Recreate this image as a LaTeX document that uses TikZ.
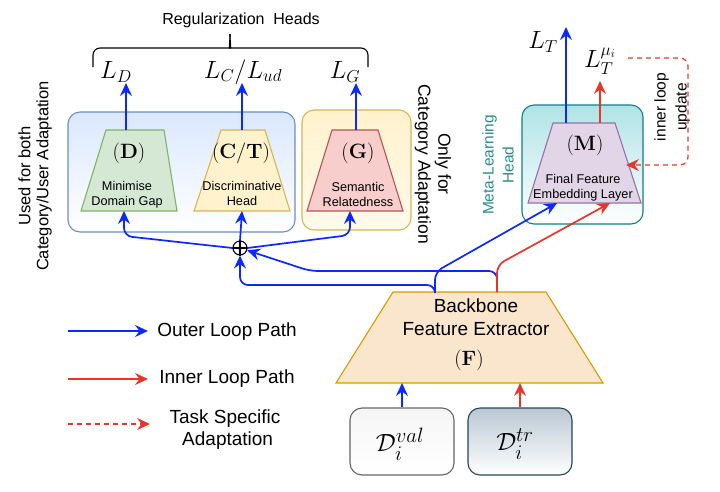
\documentclass[tikz,border=0pt]{standalone}
\usepackage[no-math]{fontspec}
\setmainfont{Liberation Sans}
\usepackage{amsmath}
\usetikzlibrary{arrows.meta}
\definecolor{lblue}{HTML}{0A28FF}
\definecolor{lred}{HTML}{E8352A}
\definecolor{teal2}{HTML}{2A8A8F}
\newcommand{\mktrap}[9]{%
  \node[minimum width=#4pt, minimum height=#5pt, inner sep=0pt, outer sep=0pt] (#1) at (#2,#3) {};
  \draw[fill=#8, draw=#9, line width=1.1pt, line join=miter] (#1.south west) -- (#1.south east) -- ([xshift=-#7pt]#1.north east) -- ([xshift=#6pt]#1.north west) -- cycle;
}
\tikzset{
  fs/.style 2 args={font=\fontsize{#1}{#2}\selectfont},
  ar/.style={-{Stealth[length=13pt,width=12pt,inset=4.5pt]}},
  bl/.style={draw=lblue, line width=1.7pt, rounded corners=8pt},
  rd/.style={draw=lred, line width=1.7pt, rounded corners=8pt},
  rbox/.style={rounded corners=12pt, line width=1.1pt, inner sep=0pt},
  txt/.style={align=center, inner sep=0pt},
}
\begin{document}
\begin{tikzpicture}[x=1pt,y=-1pt]
\useasboundingbox (0,0) rectangle (720,491);
% containers
\node[rbox, draw={rgb,255:red,108;green,142;blue,191}, top color={rgb,255:red,218;green,232;blue,252}, bottom color=white, minimum width=227pt, minimum height=120pt] (regbox) at (181.5,172) {};
\node[rbox, draw={rgb,255:red,214;green,182;blue,86}, top color={rgb,255:red,255;green,242;blue,204}, bottom color={rgb,255:red,255;green,250;blue,235}, minimum width=109pt, minimum height=120pt] (catbox) at (356.5,170) {};
\node[rbox, draw={rgb,255:red,14;green,128;blue,136}, top color={rgb,255:red,176;green,227;blue,230}, bottom color=white, minimum width=121pt, minimum height=119pt] (metabox) at (582.5,164.5) {};
% trapezoids
\mktrap{D}{129}{170.5}{96}{81}{25}{13}{{rgb,255:red,213;green,232;blue,212}}{{rgb,255:red,130;green,179;blue,102}}
\mktrap{CT}{242}{170.5}{96}{81}{27}{25}{{rgb,255:red,255;green,242;blue,204}}{{rgb,255:red,214;green,182;blue,86}}
\mktrap{G}{355}{170.5}{96}{81}{25}{25}{{rgb,255:red,248;green,206;blue,204}}{{rgb,255:red,184;green,84;blue,80}}
\mktrap{M}{584.5}{163}{113}{80}{25}{26}{{rgb,255:red,225;green,213;blue,231}}{{rgb,255:red,150;green,115;blue,166}}
\mktrap{F}{469.5}{337.5}{267}{91}{57}{57}{{rgb,255:red,250;green,230;blue,204}}{{rgb,255:red,215;green,155;blue,0}}
% trapezoid texts
\node[txt, fs={20}{24}] (Dl) at (129,153) {$(\mathbf{D})$};
\node[txt, fs={12.7}{15}] (Dt) at (127,194.5) {Minimise\\Domain Gap};
\node[txt, fs={20}{24}] (CTl) at (241,153) {$(\mathbf{C/T})$};
\node[txt, fs={12.7}{15}] (CTt) at (242,193) {Discriminative\\Head};
\node[txt, fs={20}{24}] (Gl) at (358,153) {$(\mathbf{G})$};
\node[txt, fs={12.7}{15}] (Gt) at (358,194) {Semantic\\Relatedness};
\node[txt, fs={20}{24}] (Ml) at (585,145) {$(\mathbf{M})$};
\node[txt, fs={12.7}{15}] (Mt) at (583,188) {Final Feature\\Embedding Layer};
\node[txt, fs={19}{22.5}] (Ft) at (476,317) {Backbone\\Feature Extractor};
\node[txt, fs={20}{24}] (Fl) at (469,360) {$(\mathbf{F})$};
% data boxes
\node[rbox, draw={rgb,255:red,102;green,102;blue,102}, top color={rgb,255:red,245;green,245;blue,245}, bottom color=white, minimum width=104pt, minimum height=67pt] (Dval) at (402,441.5) {};
\node[rbox, draw={rgb,255:red,35;green,68;blue,93}, top color={rgb,255:red,186;green,200;blue,211}, bottom color=white, minimum width=104pt, minimum height=67pt] (Dtr) at (520,441.5) {};
\node[txt, fs={31}{37}] (Dvalt) at (400,444) {$\mathcal{D}_i^{val}$};
\node[txt, fs={31}{37}] (Dtrt) at (515,444) {$\mathcal{D}_i^{tr}$};
% losses
\node[txt, fs={24}{28}] (LD) at (116,72) {$L_D$};
\node[txt, fs={24}{28}] (LC) at (243,72) {$L_C/L_{ud}$};
\node[txt, fs={24}{28}] (LG) at (345,72) {$L_G$};
\node[txt, fs={24}{28}] (LT) at (543,42) {$L_T$};
\node[txt, fs={24}{28}] (LTm) at (600,61) {$L_T^{\mu_i}$};
\coordinate (tD) at (126,83);
\coordinate (tC) at (242,83);
\coordinate (tG) at (356,83);
\coordinate (tT) at (566,27);
\coordinate (tTm) at (600,81);
% brace and title
\draw[line width=1.1pt, rounded corners=7pt] (93,67) -- (93,48) -- (223,48) .. controls (228.5,48) and (230,44) .. (230,34);
\draw[line width=1.1pt, rounded corners=7pt] (368,67) -- (368,48) -- (237,48) .. controls (231.5,48) and (230,44) .. (230,34);
\node[txt, fs={16}{19}] (reg) at (241,20) {Regularization\ \ Heads};
% rotated labels
\node[txt, fs={16.5}{18}, rotate=90] (used) at (35,176) {Used for both\\Category/User Adaptation};
\node[txt, fs={17.5}{20}, rotate=-90] (only) at (433,164) {Only for\\Category Adaptation};
\node[txt, fs={15.5}{20}, rotate=90, text=teal2] (metah) at (498,165) {Meta-Learning\\Head};
\node[txt, fs={15.5}{21}, rotate=90] (inner) at (672,107) {inner loop\\update};
% oplus
\node[circle, draw=black, line width=1.1pt, minimum size=14pt, inner sep=0pt] (o) at (240,248) {};
\draw[line width=1.1pt] (o.north) -- (o.south) (o.west) -- (o.east);
% up arrows from heads
\draw[bl, ar] ([xshift=-3pt]D.north) -- (tD);
\draw[bl, ar] (CT.north) -- (tC);
\draw[bl, ar] ([xshift=1pt]G.north) -- (tG);
\draw[bl, ar] ([xshift=-18.5pt]M.north) -- (tT);
\draw[rd, ar] ([xshift=15.5pt]M.north) -- (tTm);
% oplus to heads
\draw[bl, ar] (o.west) -- (124,236) -- ([xshift=-5pt]D.south);
\draw[bl, ar] (o.north) -- (CT.south);
\draw[bl, ar] (o.east) -- (350,235) -- ([xshift=-5pt]G.south);
% backbone to oplus and M
\draw[bl, ar] ([xshift=27.5pt]F.north) -- (497,271) -- (310,271) -- (o);
\draw[bl, ar] ([xshift=-34.5pt]F.north) -- (435,285) -- (240,285) -- (o.south);
\draw[bl, ar] ([xshift=-34.5pt]F.north) -- (435,272) -- ([xshift=-27.5pt]M.south);
\draw[rd, ar] ([xshift=27.5pt]F.north) -- (497,265) -- ([xshift=25.5pt]M.south);
% data to backbone
\draw[bl, ar] (Dval.north) -- (Dval.north |- F.south);
\draw[rd, ar] (Dtr.north) -- (Dtr.north |- F.south);
% dashed inner loop update
\coordinate (dstart) at (628,58);
\draw[rd, ar, dash pattern=on 5pt off 4pt, line width=1.2pt] (dstart) -- (688,58) -- (688,165) -- (626,165);
% legend
\coordinate (l1a) at (68,331); \coordinate (l1b) at (148,331);
\coordinate (l2a) at (68,379); \coordinate (l2b) at (148,379);
\coordinate (l3a) at (68,424); \coordinate (l3b) at (150,424);
\draw[bl, ar] (l1a) -- (l1b);
\draw[rd, ar] (l2a) -- (l2b);
\draw[rd, ar, dash pattern=on 5pt off 4pt, line width=1.2pt] (l3a) -- (l3b);
\node[txt, fs={19}{22.5}] (leg1) at (227,332) {Outer Loop Path};
\node[txt, fs={19}{22.5}] (leg2) at (227,379) {Inner Loop Path};
\node[txt, fs={19}{22.5}] (leg3) at (225,429.5) {Task Specific\\\ Adaptation};
\end{tikzpicture}
\end{document}
